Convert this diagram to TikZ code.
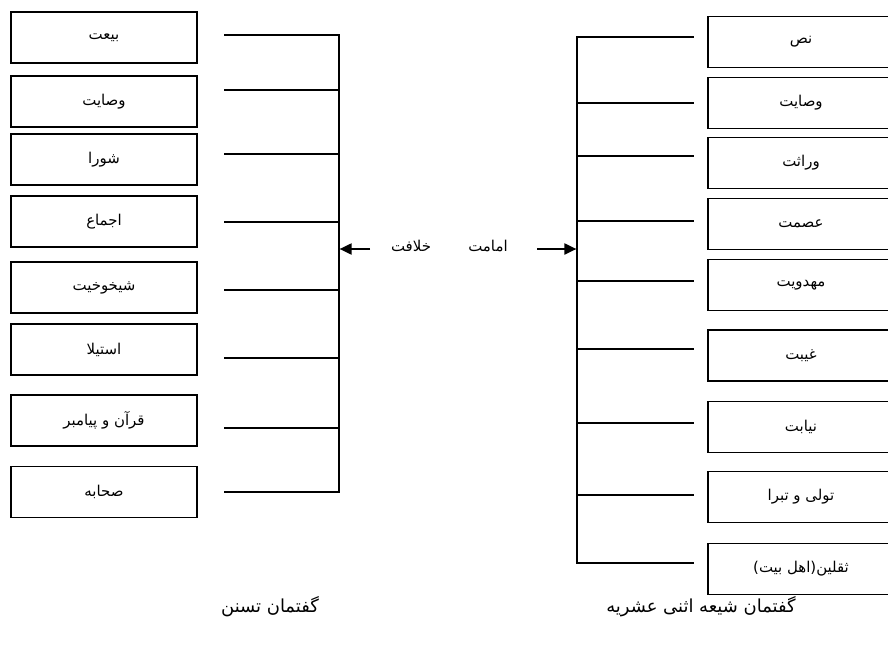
\documentclass[tikz,border=0pt]{standalone}
\usepackage{fontspec}
\usetikzlibrary{arrows.meta}
\newfontfamily\arabicfont[Script=Arabic]{DejaVu Sans}
\TeXXeTstate=1
\newcommand\rtl[1]{\beginR#1\endR}
\tikzset{
  box/.style={draw, line width=1.3bp, minimum width=186bp, minimum height=51bp,
    inner sep=0pt, font=\arabicfont\fontsize{15}{17}\selectfont},
  link/.style={line width=1.3bp, line cap=rect},
  arr/.style={line width=2bp, -{Triangle[length=12bp,width=11bp]}},
  lbl/.style={font=\arabicfont\fontsize{15}{17}\selectfont, inner sep=0pt},
  ttl/.style={font=\arabicfont\fontsize{18}{20}\selectfont, inner sep=0pt},
}
\begin{document}
\begin{tikzpicture}[x=1bp,y=-1bp]
\useasboundingbox (0,0) rectangle (888,651);
\clip (0,0) rectangle (888,651);
\fill[white] (0,0) rectangle (888,651);
% left boxes
\node[box] (b1) at (104,37.5) {\rtl{بیعت}};
\node[box] (b2) at (104,101.5) {\rtl{وصایت}};
\node[box] (b3) at (104,159.5) {\rtl{شورا}};
\node[box] (b4) at (104,221.5) {\rtl{اجماع}};
\node[box] (b5) at (104,287.5) {\rtl{شیخوخیت}};
\node[box] (b6) at (104,349.5) {\rtl{استیلا}};
\node[box] (b7) at (104,420.5) {\rtl{پیامبر}\ \rtl{و}\ \rtl{قرآن}};
\node[box] (b8) at (104,492) {\rtl{صحابه}};
% left connectors
\foreach \i/\y in {1/35,2/90,3/154,4/222,5/290,6/358,7/428,8/492}{
  \coordinate (la\i) at (225,\y);
  \coordinate (lb\i) at (339,\y);
  \draw[link] (la\i) -- (lb\i);
}
\draw[link] (lb1) -- (lb8);
% right boxes
\node[box] (r1) at (801,42) {\rtl{نص}};
\node[box] (r2) at (801,103) {\rtl{وصایت}};
\node[box] (r3) at (801,163) {\rtl{وراثت}};
\node[box] (r4) at (801,224) {\rtl{عصمت}};
\node[box] (r5) at (801,285) {\rtl{مهدویت}};
\node[box] (r6) at (801,355.5) {\rtl{غیبت}};
\node[box] (r7) at (801,427) {\rtl{نیابت}};
\node[box] (r8) at (801,497) {\rtl{تبرا}\ \rtl{و}\ \rtl{تولی}};
\node[box] (r9) at (801,569) {)\rtl{بیت}\ \rtl{اهل}(\rtl{ثقلین}};
% right connectors
\foreach \i/\y in {1/37,2/103,3/156,4/221,5/281,6/349,7/423,8/495,9/563}{
  \coordinate (ra\i) at (693,\y);
  \coordinate (rb\i) at (577,\y);
  \draw[link] (ra\i) -- (rb\i);
}
\draw[link] (rb1) -- (rb9);
% centre
\coordinate (lt) at (370,249);
\coordinate (rt) at (537,249);
\coordinate (lh) at (339.6,249);
\coordinate (rh) at (576.4,249);
\draw[arr] (lt) -- (lh);
\draw[arr] (rt) -- (rh);
\node[lbl] (khl) at (411,246) {\rtl{خلافت}};
\node[lbl] (imm) at (488,246) {\rtl{امامت}};
% titles
\node[ttl] (tl) at (270,607) {\rtl{تسنن}\ \rtl{گفتمان}};
\node[ttl] (tr) at (701,607) {\rtl{عشریه}\ \rtl{اثنی}\ \rtl{شیعه}\ \rtl{گفتمان}};
\end{tikzpicture}
\end{document}
